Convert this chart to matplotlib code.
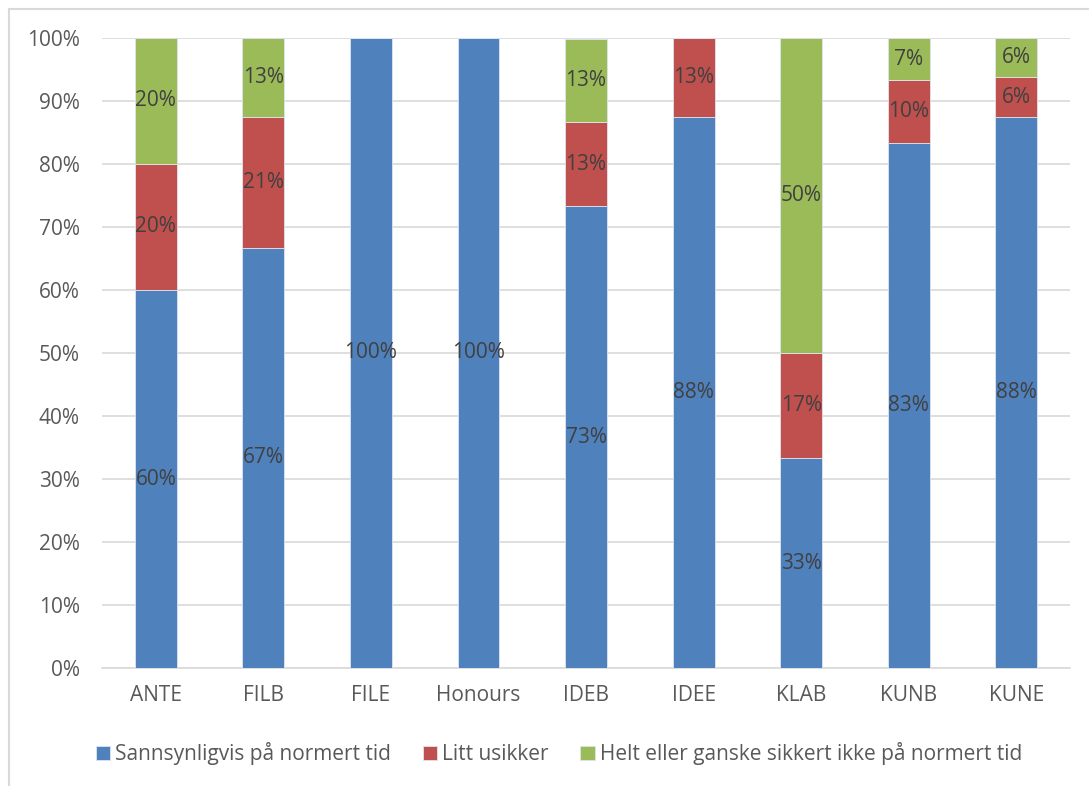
import matplotlib.pyplot as plt
from matplotlib.patches import Rectangle

categories = ['ANTE', 'FILB', 'FILE', 'Honours', 'IDEB', 'IDEE', 'KLAB', 'KUNB', 'KUNE']
sannsynlig = [60.0, 66.7, 100.0, 100.0, 73.3, 87.5, 33.3, 83.3, 87.5]
usikker = [20.0, 20.8, 0.0, 0.0, 13.3, 12.5, 16.7, 10.0, 6.25]
ikke = [20.0, 12.5, 0.0, 0.0, 13.3, 0.0, 50.0, 6.7, 6.25]
series_names = ['Sannsynligvis på normert tid', 'Litt usikker',
                'Helt eller ganske sikkert ikke på normert tid']
colors = ['#4f81bd', '#c0504d', '#9bbb59']

plt.rcParams['font.family'] = ['Open Sans', 'DejaVu Sans']
fs = 15

fig = plt.figure(figsize=(10.89, 7.86), dpi=100)
ax = fig.add_axes([0.0937, 0.1501, 0.8889, 0.8016])

x = list(range(len(categories)))
bottom = [0.0] * len(categories)
for vals, name, col in zip([sannsynlig, usikker, ikke], series_names, colors):
    ax.bar(x, vals, 0.39, bottom=bottom, color=col, label=name,
           edgecolor='#dde5f0', linewidth=0.6, zorder=3)
    for xi, v, b in zip(x, vals, bottom):
        if v > 0:
            ax.text(xi, b + v / 2, '%d%%' % int(v + 0.5), ha='center', va='center',
                    fontsize=fs, color='#404040', zorder=4)
    bottom = [b + v for b, v in zip(bottom, vals)]

ax.set_xlim(-0.5, len(categories) - 0.5)
ax.set_ylim(0, 100)
ax.set_yticks(range(0, 101, 10))
ax.set_yticklabels(['%d%%' % t for t in range(0, 101, 10)])
ax.set_xticks(x)
ax.set_xticklabels(categories)
ax.tick_params(axis='both', length=0, labelsize=fs, labelcolor='#595959')
ax.tick_params(axis='y', pad=16)
ax.tick_params(axis='x', pad=12)
ax.grid(axis='y', color='#d9d9d9', linewidth=1.2, zorder=0)
for s in ['top', 'right', 'left']:
    ax.spines[s].set_visible(False)
ax.spines['bottom'].set_color('#d9d9d9')
ax.spines['bottom'].set_linewidth(1.2)

ax.legend(loc='upper center', bbox_to_anchor=(0.472, -0.088), ncol=3, frameon=False,
          fontsize=fs, labelcolor='#595959', handlelength=0.7, handleheight=0.7,
          handletextpad=0.25, columnspacing=1.5)

fig.patches.append(Rectangle((9 / 1089, -0.1), 1.2, 1 - 9 / 786 + 0.1,
                             transform=fig.transFigure, fill=False,
                             edgecolor='#d9d9d9', linewidth=1.5))

fig.savefig('out.png', dpi=100)
